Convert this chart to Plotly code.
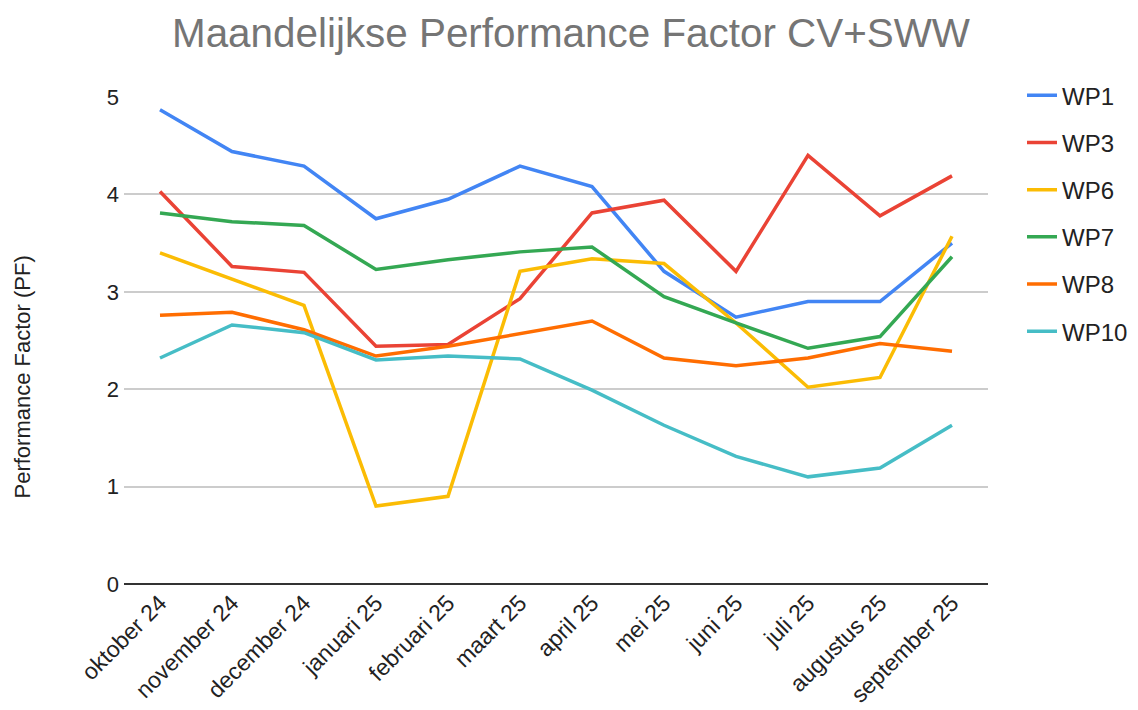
import plotly.graph_objects as go

months = ["oktober 24", "november 24", "december 24", "januari 25", "februari 25", "maart 25",
          "april 25", "mei 25", "juni 25", "juli 25", "augustus 25", "september 25"]

wp1 = [4.87, 4.44, 4.29, 3.75, 3.95, 4.29, 4.08, 3.21, 2.74, 2.90, 2.90, 3.50]
wp3 = [4.03, 3.26, 3.20, 2.44, 2.46, 2.93, 3.81, 3.94, 3.21, 4.40, 3.78, 4.19]
wp6 = [3.40, 3.13, 2.86, 0.80, 0.90, 3.21, 3.34, 3.29, 2.68, 2.02, 2.12, 3.57]
wp7 = [3.81, 3.72, 3.68, 3.23, 3.33, 3.41, 3.46, 2.95, 2.68, 2.42, 2.54, 3.36]
wp8 = [2.76, 2.79, 2.61, 2.34, 2.44, 2.57, 2.70, 2.32, 2.24, 2.32, 2.47, 2.39]
wp10 = [2.32, 2.66, 2.58, 2.30, 2.34, 2.31, 1.99, 1.63, 1.31, 1.10, 1.19, 1.63]

series_names = ["WP1", "WP3", "WP6", "WP7", "WP8", "WP10"]
series_values = [wp1, wp3, wp6, wp7, wp8, wp10]
colors = ["#4285F4", "#EA4335", "#FBBC04", "#34A853", "#FF6D01", "#46BDC6"]

y_ticks = [0, 1, 2, 3, 4, 5]

FONT = "Liberation Sans, Arial, sans-serif"

# page body has an 8px margin; layout positions compensate for the offset
W, H = 1138, 710
L, R, T, B = 116, 158, 89, 134
PW = W - L - R
PH = H - T - B

fig = go.Figure()
for name, vals, col in zip(series_names, series_values, colors):
    fig.add_trace(go.Scatter(
        x=months, y=vals, mode="lines", name=name, legendgroup=name,
        line=dict(color=col, width=3.5),
    ))

fig.update_layout(
    width=W, height=H,
    paper_bgcolor="white", plot_bgcolor="white",
    margin=dict(l=L, r=R, t=T, b=B, autoexpand=False),
    font=dict(family=FONT, size=22, color="#222222"),
    title=dict(text="Maandelijkse Performance Factor CV+SWW",
               font=dict(family=FONT, size=40.4, color="#757575"),
               x=563 / W, xanchor="center", xref="container",
               y=1 - 25 / H, yanchor="middle", yref="container"),
    showlegend=True,
    legend=dict(x=(1014 - L) / PW, xanchor="left", y=1.049, yanchor="top",
                font=dict(family=FONT, size=24, color="#222222"),
                tracegroupgap=13, traceorder="grouped", itemwidth=30,
                bgcolor="rgba(0,0,0,0)"),
    annotations=[dict(text="Performance Factor (PF)", textangle=-90,
                      xref="paper", yref="paper", x=(14 - L) / PW, y=(H - B - 377.5 + 8) / PH,
                      xanchor="center", yanchor="middle", showarrow=False,
                      font=dict(family=FONT, size=22, color="#222222"))],
)

fig.update_xaxes(
    type="category", range=[-0.5, len(months) - 0.5],
    tickangle=-45, tickfont=dict(family=FONT, size=23, color="#222222"),
    showgrid=False, showline=False, ticks="", zeroline=False,
)
fig.update_yaxes(
    range=[0, 5.0], tickvals=y_ticks,
    tickfont=dict(family=FONT, size=22, color="#222222"),
    showgrid=True, gridcolor="#cccccc", gridwidth=1.5,
    zeroline=True, zerolinecolor="#333333", zerolinewidth=2,
    showline=False, ticks="", ticklabelstandoff=4,
)

fig.write_html("out.html")
